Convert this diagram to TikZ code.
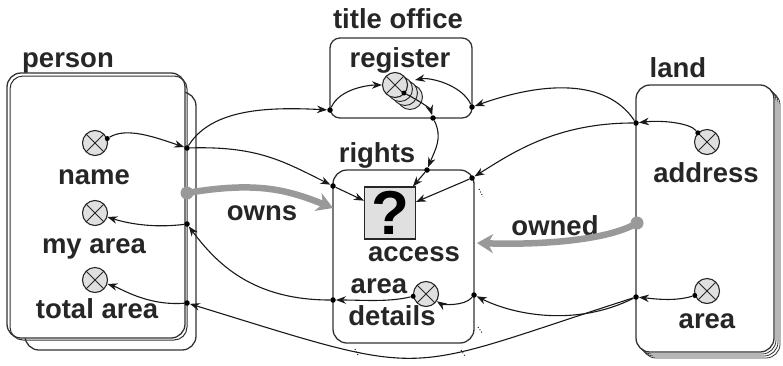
\documentclass[tikz,border=0pt]{standalone}
\usepackage{fontspec}
\setmainfont{Liberation Sans}
\usetikzlibrary{arrows.meta}
\pgfdeclarelayer{background}
\pgfsetlayers{background,main}
\begin{document}
\begin{tikzpicture}[x=1pt,y=-1pt,
  lbl/.style={font=\bfseries\fontsize{27.5}{29}\selectfont, inner sep=0pt, anchor=base, text=black!85},
  conv/.style={circle, draw=black!85, fill=black!12, line width=1.1pt, minimum size=25pt, inner sep=0pt,
    path picture={\draw[line width=1pt, black!85]
      (path picture bounding box.north west) -- (path picture bounding box.south east)
      (path picture bounding box.north east) -- (path picture bounding box.south west);}},
  jn/.style={circle, fill=black, inner sep=0pt, minimum size=5.5pt},
  sdot/.style={circle, fill=black, inner sep=0pt, minimum size=5pt},
  link/.style={line width=1.1pt, black!90, -{Stealth[length=10pt,width=7.5pt]}},
  boxline/.style={line width=1.3pt, draw=black!80, fill=white, rounded corners=14pt},
  deck/.style={line width=0.8pt, draw=black!80, fill=white, rounded corners=14pt},
  flow/.style={line width=6.5pt, draw=black!40, -{Stealth[length=16pt,width=19pt,inset=5pt]}},
  flowdot/.style={circle, fill=black!40, inner sep=0pt, minimum size=13pt},
]
\useasboundingbox (0,0) rectangle (783,365);

% ---------- containers ----------
\begin{pgfonlayer}{background}
  % person stack
  \draw[boxline] (25,92) rectangle (196,350);
  \draw[boxline] (7,73) rectangle (185,338);
  \draw[line width=1pt, draw=black!80, rounded corners=13pt] (10,76) rectangle (187,340);
  % title office
  \draw[boxline, rounded corners=10pt] (330,38) rectangle (472,118);
  % rights
  \draw[boxline] (333,170) rectangle (474,343);
  \draw[dotted, line width=0.9pt] (479,189) -- (483,197);
  \draw[dotted, line width=0.9pt] (478,327) -- (483,334);
  \draw[dotted, line width=0.9pt] (355,349) -- (358,355);
  \draw[dotted, line width=0.9pt] (461,350) -- (465,356);
  % land stack
  \draw[deck] (642,91) rectangle (780,358);
  \draw[deck] (640,89) rectangle (778,356);
  \draw[deck] (638,87) rectangle (776,354);
  \draw[boxline] (636,85) rectangle (774,352);
\end{pgfonlayer}

% ---------- labels ----------
\node[lbl] (tperson)  at (68,67)   {person};
\node[lbl] (tname)    at (94,184)  {name};
\node[lbl] (tmyarea)  at (94,253)  {my area};
\node[lbl] (ttotal)   at (97,318)  {total area};
\node[lbl] (ttitle)   at (398,28)  {title office};
\node[lbl] (treg)     at (400,67)  {register};
\node[lbl] (trights)  at (377,162) {rights};
\node[lbl] (taccess)  at (414,261) {access};
\node[lbl] (tarea)    at (379,293) {area};
\node[lbl] (tdetails) at (392,325) {details};
\node[lbl] (towns)    at (262,220) {owns};
\node[lbl] (towned)   at (555,235) {owned};
\node[lbl] (tland)    at (678,77)  {land};
\node[lbl] (taddr)    at (706,182) {address};
\node[lbl] (tlarea)   at (707,328) {area};

% ---------- variables ----------
\node[conv] (pname)  at (95,143) {};
\node[conv] (parea)  at (95,213) {};
\node[conv] (ptotal) at (95,280) {};
\node[conv] (laddr)  at (707,142) {};
\node[conv] (larea)  at (707,291) {};
\node[conv] (rarea)  at (426,294) {};

% register stock
\foreach \k in {3,2,1}
  \draw[fill=black!12, line width=0.9pt, draw=black!85] (395+5*\k, 85+4*\k) circle (12.5pt);
\node[conv] (reg) at (395,85) {};
\node[sdot] (regdot) at (404,93) {};
\coordinate (regin) at (415,80);

% access
\node[draw=black!85, fill=black!12, line width=1.1pt, minimum width=51pt, minimum height=52pt,
      inner sep=0pt, font=\bfseries\fontsize{62}{62}\selectfont] (q) at (390,213) {?};

% ---------- junctions ----------
\node[jn] (J1) at (187,148) {};
\node[jn] (J2) at (187,224) {};
\node[jn] (J3) at (187,303) {};
\node[jn] (T1) at (330,110) {};
\node[jn] (T2) at (472,107) {};
\node[jn] (T3) at (433,118) {};
\node[jn] (R1) at (333,186) {};
\node[jn] (R5) at (427,170) {};
\node[jn] (R2) at (472,178) {};
\node[jn] (R3) at (333,300) {};
\node[jn] (R4) at (474,295) {};
\node[jn] (L1) at (636,123) {};
\node[jn] (L2) at (636,297) {};

\node[sdot] (d1) at (pname.20) {};
\node[sdot] (d2) at (laddr.135) {};
\node[sdot] (d3) at (larea.200) {};
\node[sdot] (d4) at (rarea.190) {};

% ---------- ownership flows ----------
\node[flowdot] (ownsdot) at (187,193) {};
\coordinate (ownsE) at (333,208);
\draw[flow] (ownsdot.center) .. controls +(70,-12) and +(-45,-18) .. (ownsE);
\node[flowdot] (owneddot) at (637,223) {};
\coordinate (ownedE) at (477,243);
\draw[flow] (owneddot.center) .. controls +(-30,18) and +(60,2) .. (ownedE);

% ---------- links ----------
\draw[link] (d1) .. controls +(20,-12) and +(-30,-10) .. (J1);
\draw[link] (J1) .. controls +(25,-40) and +(-60,-3) .. (T1);
\draw[link] (J1) .. controls +(70,-2) and +(-50,-25) .. (R1);
\draw[link] (J2) .. controls +(-40,5) and +(25,8) .. (parea);
\draw[link] (J3) .. controls +(-40,3) and +(25,8) .. (ptotal);
\draw[link] (R3) .. controls +(-80,0) and +(30,40) .. (J2);
\draw[link] (L2) .. controls +(-240,77) and +(250,77) .. (J3);
\draw[link] (L2) .. controls +(-60,30) and +(40,20) .. (R4);
\draw[link] (d3) .. controls +(-20,6) and +(20,2) .. (L2);
\draw[link] (d2) .. controls +(-8,-10) and +(25,-3) .. (L1);
\draw[link] (L1) .. controls +(-30,-45) and +(70,-25) .. (T2);
\draw[link] (L1) .. controls +(-80,0) and +(40,-25) .. (R2);
\draw[link] (T1) .. controls +(10,-22) and +(-25,0) .. (reg);
\draw[link] (T2) .. controls +(-10,-22) and +(15,-3) .. (regin);
\draw[link] (regdot) .. controls +(12,6) and +(-3,-10) .. (T3);
\draw[link] (T3) .. controls +(10,20) and +(8,-20) .. (R5);
\draw[link] (R5) -- (q);
\draw[link] (R1) -- (q);
\draw[link] (R2) -- (q);
\draw[link] (d4) .. controls +(-25,6) and +(30,0) .. (R3);
\draw[link] (R4) .. controls +(-10,12) and +(15,10) .. (rarea);
\end{tikzpicture}
\end{document}
